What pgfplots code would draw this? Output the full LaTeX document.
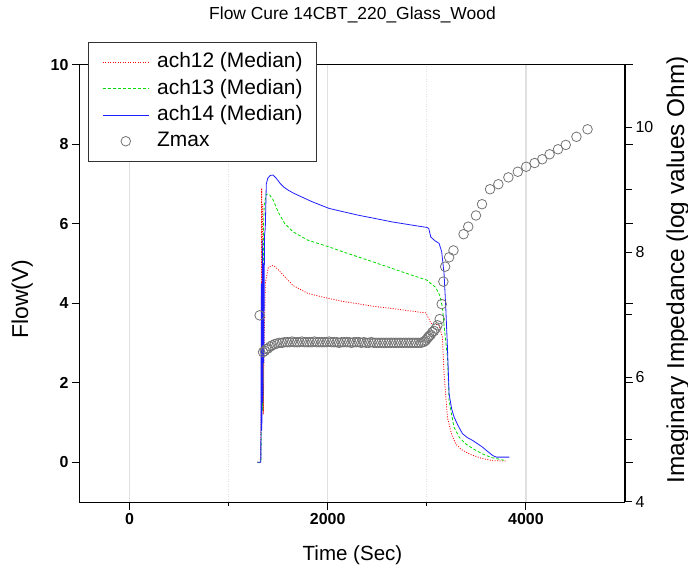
\documentclass[border=0pt]{standalone}
\usepackage{fontspec}
\setmainfont{Liberation Sans}
\usepackage{pgfplots}
\pgfplotsset{compat=1.18}
\definecolor{zgray}{RGB}{115,115,115}
\definecolor{ared}{RGB}{255,0,0}
\definecolor{agreen}{RGB}{0,220,0}
\definecolor{ablue}{RGB}{30,30,255}
\pgfplotsset{
  lineleg/.style={legend image code/.code={\draw[##1] (0bp,0bp) -- (46bp,0bp);}},
  markleg/.style={legend image code/.code={\path[draw=none] (0bp,0bp) -- (46bp,0bp); \draw[##1, only marks] plot coordinates {(23bp,0bp)};}},
}
\begin{document}
\begin{tikzpicture}
\path[use as bounding box] (-80bp,-66.3bp) rectangle (608bp,502bp);
\begin{axis}[
  at={(0,0)}, anchor=south west,
  scale only axis, width=545bp, height=437bp,
  xmin=-500, xmax=5000, ymin=-1, ymax=10,
  xtick={0,2000,4000}, minor xtick={1000,3000},
  ytick={0,2,4,6,8,10},
  xtick pos=bottom, ytick pos=both, yticklabel pos=left,
  tick align=outside, major tick length=8bp, minor tick length=4bp,
  axis line style={line width=1bp},
  every tick/.style={black, line width=1bp},
  xmajorgrids, xminorgrids,
  major grid style={black!12, line width=1.2bp},
  minor grid style={black!12, line width=1bp, dash pattern=on 1bp off 1.5bp},
  ticklabel style={font=\bfseries\fontsize{16}{19}\selectfont},
  /pgf/number format/assume math mode=true,
  /pgf/number format/1000 sep={},
  title={Flow Cure 14CBT\_220\_Glass\_Wood},
  title style={at={(axis description cs:0.5,1.1007)}, anchor=center, font=\fontsize{17.5}{21}\selectfont},
  xlabel={Time (Sec)},
  xlabel style={at={(axis description cs:0.5,-0.122)}, anchor=center, font=\fontsize{20.6}{24}\selectfont},
  ylabel={Flow(V)},
  ylabel style={at={(axis description cs:-0.106,0.4645)}, anchor=center, font=\fontsize{23}{27}\selectfont},
]
% ach12 (red dotted)
\addplot[ared, line width=0.8bp, dash pattern=on 1bp off 1.5bp] coordinates {
(1290,0)(1320,0)(1328,1.1)(1333,6.9)(1338,2.0)(1343,6.5)(1350,1.2)(1358,3.0)(1370,4.5)(1400,4.9)(1414,4.92)(1440,4.95)(1465,4.93)(1500,4.85)(1566,4.67)(1650,4.45)(1800,4.25)(2014,4.12)(2150,4.05)(2307,3.99)(2450,3.93)(2650,3.87)(2800,3.82)(2989,3.76)(3023,3.6)(3040,3.5)(3124,3.45)(3157,3.15)(3174,2.23)(3208,1.13)(3250,0.7)(3292,0.46)(3350,0.32)(3428,0.21)(3550,0.1)(3665,0.04)(3800,0.03)
};
% ach13 (green dashed)
\addplot[agreen, line width=0.8bp, dash pattern=on 3bp off 2bp] coordinates {
(1290,0)(1325,0)(1333,1.2)(1340,3.5)(1345,1.3)(1352,6.0)(1360,6.5)(1380,6.75)(1414,6.73)(1450,6.6)(1500,6.3)(1566,6.01)(1650,5.8)(1800,5.59)(2014,5.42)(2150,5.3)(2307,5.17)(2450,5.05)(2650,4.88)(2800,4.75)(3005,4.58)(3040,4.5)(3090,4.4)(3130,4.2)(3157,3.91)(3180,3.3)(3208,2.65)(3225,1.56)(3250,1.2)(3275,0.88)(3330,0.62)(3393,0.46)(3480,0.32)(3563,0.21)(3650,0.12)(3800,0.04)
};
% ach14 (blue solid)
\addplot[ablue, line width=0.8bp] coordinates {
(1290,0)(1325,0)(1330,4.5)(1335,0.8)(1340,5.6)(1345,1.5)(1350,5.0)(1355,2.5)(1362,5.7)(1370,5.9)(1380,7.0)(1395,7.15)(1420,7.22)(1449,7.23)(1480,7.15)(1520,7.02)(1560,6.92)(1601,6.85)(1650,6.78)(1736,6.68)(1850,6.55)(2014,6.39)(2150,6.31)(2307,6.22)(2450,6.15)(2650,6.05)(2800,5.99)(2900,5.95)(3005,5.91)(3020,5.88)(3040,5.67)(3080,5.58)(3124,5.51)(3150,5.3)(3174,4.75)(3191,3.91)(3208,2.9)(3225,1.72)(3250,1.35)(3275,1.14)(3310,0.95)(3360,0.72)(3410,0.62)(3462,0.55)(3510,0.47)(3563,0.38)(3610,0.28)(3665,0.17)(3700,0.13)(3834,0.13)
};
\end{axis}
\begin{axis}[
  at={(0,0)}, anchor=south west,
  scale only axis, width=545bp, height=437bp,
  xmin=-500, xmax=5000, ymin=4, ymax=11,
  axis x line=none, axis y line*=right,
  ytick={4,6,8,10}, minor ytick={5,7,9},
  tick align=outside, major tick length=7bp, minor tick length=7bp,
  axis line style={line width=1bp},
  every tick/.style={black, line width=1bp},
  yticklabel style={font=\fontsize{16}{19}\selectfont},
  /pgf/number format/assume math mode=true,
  ylabel={Imaginary Impedance (log values Ohm)},
  ylabel style={at={(axis description cs:1.097,0.531)}, anchor=center, font=\fontsize{24.5}{29}\selectfont},
  legend cell align=left,
  legend style={at={(rel axis cs:0.0147,1.0527)}, anchor=north west,
    draw=black!80, line width=0.8bp, fill=white,
    font=\fontsize{21}{25}\selectfont,
    inner xsep=14bp, inner ysep=10.5bp, column sep=8bp, row sep=7.3bp,
    nodes={inner sep=0pt, text height=15bp, text depth=4bp}},
]
\addlegendimage{ared, line width=0.8bp, dash pattern=on 1bp off 1.5bp, lineleg}
\addlegendentry{ach12 (Median)}
\addlegendimage{agreen, line width=0.8bp, dash pattern=on 3bp off 2bp, lineleg}
\addlegendentry{ach13 (Median)}
\addlegendimage{ablue, line width=0.8bp, lineleg}
\addlegendentry{ach14 (Median)}
\addplot[only marks, mark=o, mark size=4.8bp, zgray, mark options={line width=0.8bp}, markleg] coordinates {
(1313,6.99)(1347,6.40)(1365,6.42)(1380,6.45)(1398,6.46)(1420,6.49)(1440,6.51)(1466,6.53)(1490,6.54)(1515,6.55)(1540,6.55)(1566,6.56)
(1590,6.56)(1615,6.56)(1640,6.57)(1665,6.56)(1690,6.56)(1715,6.56)(1740,6.57)(1765,6.56)(1790,6.56)(1815,6.56)(1840,6.56)(1865,6.57)
(1890,6.56)(1915,6.56)(1940,6.56)(1965,6.56)(1990,6.56)(2015,6.57)(2040,6.56)(2065,6.56)(2090,6.56)(2115,6.55)(2140,6.56)(2165,6.56)
(2190,6.56)(2215,6.56)(2240,6.55)(2265,6.56)(2290,6.56)(2315,6.56)(2340,6.55)(2365,6.56)(2390,6.55)(2415,6.55)(2440,6.56)(2465,6.55)
(2490,6.55)(2515,6.55)(2540,6.55)(2565,6.55)(2590,6.55)(2615,6.55)(2640,6.55)(2665,6.55)(2690,6.55)(2715,6.55)(2740,6.55)(2765,6.55)
(2790,6.55)(2815,6.55)(2840,6.55)(2865,6.55)(2890,6.55)(2915,6.55)(2940,6.55)(2960,6.56)(2975,6.57)(2990,6.59)(3005,6.62)(3015,6.64)
(3025,6.66)(3040,6.68)(3056,6.72)(3073,6.74)(3090,6.78)(3107,6.83)(3130,6.93)(3150,7.17)(3167,7.53)(3185,7.77)(3225,7.92)(3269,8.03)
(3371,8.29)(3418,8.41)(3496,8.59)(3557,8.77)(3638,9.01)(3722,9.09)(3823,9.20)(3918,9.29)(4003,9.37)(4088,9.43)(4165,9.49)(4239,9.57)
(4324,9.65)(4402,9.72)(4510,9.85)(4622,9.97)
};
\addlegendentry{Zmax}
\end{axis}
\end{tikzpicture}
\end{document}
